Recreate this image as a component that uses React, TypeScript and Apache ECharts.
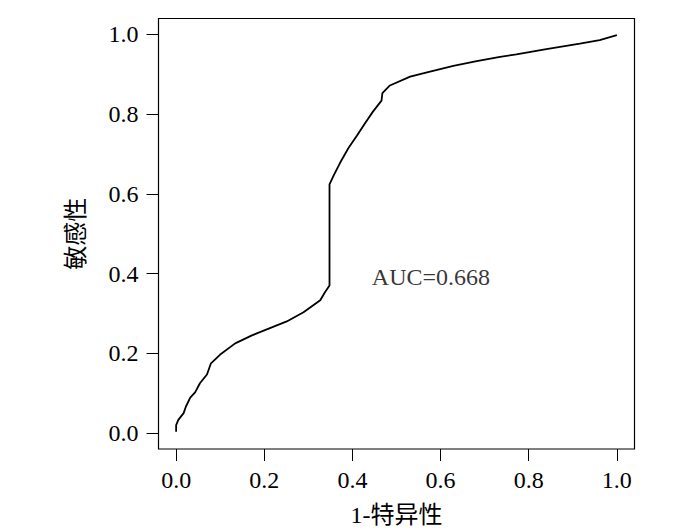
import React, { useEffect, useRef } from "react";
import * as echarts from "echarts";

const fpr = [0, 0, 0.005, 0.017, 0.022, 0.032, 0.043, 0.054, 0.07, 0.079, 0.1, 0.134, 0.172, 0.21, 0.251, 0.289, 0.327, 0.338, 0.348, 0.348, 0.357, 0.372, 0.391, 0.41, 0.429, 0.447, 0.466, 0.468, 0.485, 0.531, 0.576, 0.629, 0.682, 0.735, 0.772, 0.84, 0.916, 0.961, 1.0];
const tpr = [0.003, 0.02, 0.033, 0.05, 0.066, 0.089, 0.102, 0.125, 0.147, 0.175, 0.197, 0.225, 0.245, 0.262, 0.28, 0.303, 0.333, 0.354, 0.37, 0.624, 0.645, 0.678, 0.715, 0.746, 0.778, 0.807, 0.834, 0.853, 0.872, 0.894, 0.907, 0.921, 0.933, 0.944, 0.95, 0.963, 0.977, 0.986, 0.998];
const tickValues = [0, 0.2, 0.4, 0.6, 0.8, 1.0];
const xTitle = "1-特异性";
const yTitle = "敏感性";
const aucLabel = "AUC=0.668";
const aucPos = [0.444, 0.392];

const FONT = "'Liberation Serif', 'Times New Roman', 'Noto Sans CJK SC', serif";
const INK = "#000";

export default function App() {
  const ref = useRef<HTMLDivElement>(null);
  useEffect(() => {
    document.body.style.margin = "0";
    const chart = echarts.init(ref.current!, null, { renderer: "svg" });
    const axisCommon = {
      type: "value" as const,
      min: -0.04,
      max: 1.04,
      splitLine: { show: false },
      axisLine: { show: false, onZero: false },
      axisTick: {
        show: true, inside: false, length: 12, customValues: tickValues,
        lineStyle: { color: INK, width: 1 },
      },
      nameLocation: "middle" as const,
      nameTextStyle: { fontFamily: FONT, fontSize: 24, color: INK },
    };
    const labelCommon = {
      customValues: tickValues,
      fontFamily: FONT, fontSize: 24, color: INK,
      formatter: (v: number) => v.toFixed(1),
    };
    chart.setOption({
      animation: false,
      backgroundColor: "#fff",
      grid: {
        left: 158.5, top: 18.5, width: 476, height: 432, containLabel: false,
        show: true, borderColor: INK, borderWidth: 1.2, backgroundColor: "transparent",
      },
      xAxis: {
        ...axisCommon,
        name: xTitle,
        nameGap: 54,
        axisLabel: { ...labelCommon, margin: 19 },
      },
      yAxis: {
        ...axisCommon,
        name: yTitle,
        nameGap: 71,
        axisLabel: { ...labelCommon, margin: 20 },
      },
      series: [
        {
          type: "line",
          data: fpr.map((x, i) => [x, tpr[i]]),
          showSymbol: false,
          symbol: "none",
          lineStyle: { color: INK, width: 1.8 },
        },
        {
          type: "scatter",
          data: [aucPos],
          symbolSize: 0,
          label: {
            show: true,
            position: [0, 0],
            align: "left",
            verticalAlign: "middle",
            formatter: aucLabel,
            fontFamily: FONT,
            fontSize: 24,
            color: INK,
          },
        },
      ],
    });
    return () => chart.dispose();
  }, []);
  return <div ref={ref} style={{ width: 700, height: 532 }} />;
}
